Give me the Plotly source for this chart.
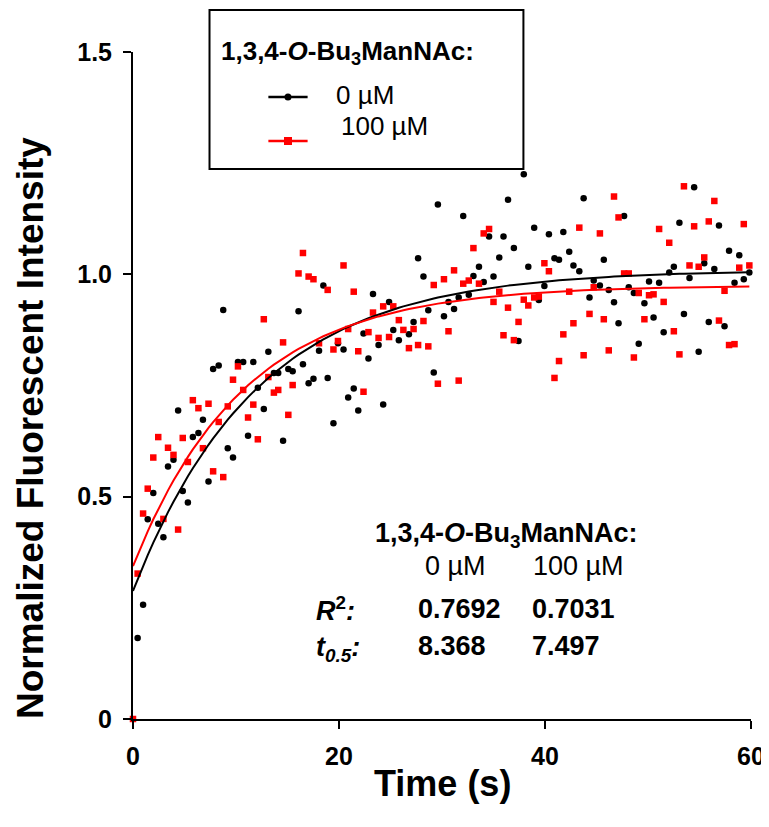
import plotly.graph_objects as go

# ---------------- data ----------------
time_s = [0.0, 0.45, 0.98, 1.43, 1.97, 2.45, 2.95, 3.4, 3.93, 4.38, 4.83, 5.33, 5.81, 6.35, 6.79,
          7.33, 7.78, 8.32, 8.76, 9.2, 9.71, 10.19, 10.7, 11.17, 11.68, 12.12, 12.7, 13.14, 13.68,
          14.1, 14.57, 15.08, 15.5, 16.07, 16.5, 17.05, 17.52, 18.06, 18.48, 18.9, 19.46, 19.9,
          20.44, 20.89, 21.43, 21.87, 22.38, 22.86, 23.3, 23.84, 24.29, 24.86, 25.27, 25.81, 26.25,
          26.79, 27.24, 27.68, 28.2, 28.67, 29.2, 29.6, 30.19, 30.63, 31.17, 31.62, 32.06, 32.6,
          33.05, 33.59, 34.05, 34.57, 35.0, 35.56, 35.97, 36.41, 36.98, 37.43, 37.94, 38.38, 38.95,
          39.4, 39.94, 40.38, 40.92, 41.36, 41.78, 42.35, 42.76, 43.33, 43.75, 44.32, 44.73, 45.33,
          45.71, 46.19, 46.7, 47.14, 47.68, 48.13, 48.63, 49.1, 49.65, 50.1, 50.54, 51.08, 51.52,
          52.06, 52.51, 53.05, 53.49, 54.03, 54.48, 54.92, 55.46, 55.9, 56.44, 56.89, 57.43, 57.87,
          58.4, 58.86, 59.3, 59.84]

intensity_0uM = [None, 0.182, 0.257, 0.449, 0.508, 0.439, 0.409, 0.568, 0.583, 0.694, 0.513, 0.487,
                 0.634, 0.643, 0.673, 0.534, 0.787, 0.795, 0.920, 0.609, 0.588, 0.803, 0.803, 0.637,
                 0.803, 0.745, 0.697, 0.826, 0.778, 0.778, 0.626, 0.787, 0.782, 0.917, 0.798, 0.755,
                 0.765, 0.828, 0.975, 0.767, 0.665, 0.845, 0.831, 0.723, 0.743, 0.694, 0.867, 0.811,
                 0.956, 0.841, 0.707, 0.938, 0.875, 0.852, None, 0.865, 0.893, 1.036, 0.995, 0.919,
                 0.779, 1.157, 0.906, 0.938, 0.922, 0.948, 1.131, 0.954, 0.996, 1.017, 0.983, 1.085,
                 0.995, 1.038, 1.085, 1.168, 1.059, 0.850, 1.225, 1.017, 1.105, 0.942, 0.974, 1.090,
                 1.036, 1.033, 1.095, 1.051, 1.020, 1.007, 1.171, 0.948, 0.986, 0.975, 1.033, 0.965,
                 0.937, 0.890, 1.131, 0.971, 0.958, 0.844, 0.935, 0.984, 0.903, 0.981, 0.870, 1.004,
                 1.017, 1.116, 0.911, 0.992, 1.196, 0.826, 1.025, 0.893, 1.012, 1.110, 0.883, 1.053,
                 0.981, 1.043, 0.989, 1.004]

intensity_100uM = [0.0, 0.327, 0.462, 0.518, 0.588, 0.634, 0.450, 0.610, 0.594, 0.426, 0.632, 0.578,
                   0.717, 0.699, 0.609, 0.709, 0.557, 0.668, 0.544, 0.703, 0.763, 0.793, 0.740, 0.678,
                   0.707, 0.629, 0.899, 0.769, 0.734, 0.740, 0.847, 0.684, 0.751, 1.002, 1.048, 0.995,
                   0.989, 0.845, None, 0.965, 0.831, 0.850, 1.020, 0.877, 0.961, 0.827, 0.736, 0.870,
                   0.914, 0.857, 0.928, 0.859, 0.928, 0.897, 0.875, 0.834, 0.877, 0.841, 0.895, 0.838,
                   0.976, 0.754, 0.989, 0.872, 1.009, 0.761, 0.979, 0.986, 1.059, 0.979, 1.092, 1.102,
                   0.938, 0.961, 0.863, 0.925, 0.852, 0.893, 0.943, 0.930, 0.948, 0.950, 1.025, 1.007,
                   0.767, 0.805, 0.865, 0.961, 0.890, 1.105, 0.818, 0.911, 0.971, 1.092, 0.899, 0.829,
                   1.175, 1.128, 1.002, 1.002, 0.813, 0.958, 0.899, 0.953, 0.955, 1.102, 0.938, 1.071,
                   0.872, 0.820, 1.198, 1.020, 1.108, 1.017, 1.038, 1.119, 1.165, 0.896, 0.963, 0.841,
                   0.843, 1.015, 1.113, 1.020]

# one-phase association fit parameters (t_half from the chart, y0/plateau)
fit_0uM = {"y0": 0.288, "plateau": 1.010, "t_half": 8.368}
fit_100uM = {"y0": 0.344, "plateau": 0.975, "t_half": 7.497}

x_ticks = [0, 20, 40, 60]
x_tick_text = ["0", "20", "40", "60"]
y_ticks = [0, 0.5, 1.0, 1.5]
y_tick_text = ["0", "0.5", "1.0", "1.5"]

FONT = "Liberation Sans, Arial, Helvetica, sans-serif"
RED = "#ff0000"

# ---------------- geometry helpers ----------------
W, H = 769, 827
L, R, T, B = 125, 14, 44, 116
PW, PH = W - L - R, H - T - B


def px(x):
    return (x - L) / PW


def py(y):
    return (H - B - y) / PH


def fit_curve(p, t):
    return [p["y0"] + (p["plateau"] - p["y0"]) * (1 - 2 ** (-ti / p["t_half"])) for ti in t]


fig = go.Figure()
fig.add_trace(go.Scatter(x=time_s, y=intensity_0uM, mode="markers", name="0 µM",
                         marker=dict(symbol="circle", size=6.5, color="black"), cliponaxis=False))
fig.add_trace(go.Scatter(x=time_s, y=intensity_100uM, mode="markers", name="100 µM",
                         marker=dict(symbol="square", size=6.5, color=RED), cliponaxis=False))
fig.add_trace(go.Scatter(x=time_s, y=fit_curve(fit_0uM, time_s), mode="lines",
                         line=dict(color="black", width=2), showlegend=False))
fig.add_trace(go.Scatter(x=time_s, y=fit_curve(fit_100uM, time_s), mode="lines",
                         line=dict(color=RED, width=2), showlegend=False))

shapes = []
# legend box
shapes.append(dict(type="rect", xref="paper", yref="paper", x0=px(203), x1=px(523),
                   y0=py(161), y1=py(2), line=dict(color="black", width=2)))
# legend samples
shapes.append(dict(type="line", xref="paper", yref="paper", x0=px(263), x1=px(303),
                   y0=py(89), y1=py(89), line=dict(color="black", width=2.5)))
shapes.append(dict(type="circle", xref="paper", yref="paper", xsizemode="pixel", ysizemode="pixel",
                   xanchor=px(283), yanchor=py(89), x0=-3.5, x1=3.5, y0=-3.5, y1=3.5,
                   fillcolor="black", line=dict(width=0)))
shapes.append(dict(type="line", xref="paper", yref="paper", x0=px(263), x1=px(303),
                   y0=py(133), y1=py(133), line=dict(color=RED, width=2.5)))
shapes.append(dict(type="rect", xref="paper", yref="paper", xsizemode="pixel", ysizemode="pixel",
                   xanchor=px(283), yanchor=py(133), x0=-4, x1=4, y0=-4, y1=4,
                   fillcolor=RED, line=dict(width=0)))

TITLE_TXT = "<b>1,3,4-<i>O</i>-Bu<sub>3</sub>ManNAc:</b>"


def ann(text, x, y, size=27, xanchor="left", angle=0):
    return dict(text=text, x=px(x), y=py(y), xref="paper", yref="paper", showarrow=False,
                xanchor=xanchor, yanchor="middle", textangle=angle,
                font=dict(family=FONT, size=size, color="black"))


annotations = [
    # legend texts
    ann(TITLE_TXT, 213, 44, size=26),
    ann("0 µM", 330, 87, size=26),
    ann("100 µM", 335, 118, size=26),
    # inset statistics
    ann(TITLE_TXT, 370, 527),
    ann("0 µM", 421, 558),
    ann("100 µM", 531, 558),
    ann("<b><i>R</i><sup>2</sup><i>:</i></b>", 310, 601),
    ann("<b>0.7692</b>", 413, 601),
    ann("<b>0.7031</b>", 530, 601),
    ann("<b><i>t</i><sub><i>0.5</i></sub><i>:</i></b>", 310, 641),
    ann("<b>8.368</b>", 413, 638),
    ann("<b>7.497</b>", 530, 638),
    # axis titles
    ann("<b>Normalized Fluorescent Intensity</b>", 20, 420, size=37, xanchor="center", angle=-90),
    ann("<b>Time (s)</b>", 440, 775, size=36, xanchor="center"),
]

axis_common = dict(showline=True, linecolor="black", linewidth=2, ticks="outside", ticklen=8,
                   tickwidth=2, tickcolor="black", showgrid=False, zeroline=False, mirror=False,
                   tickfont=dict(family=FONT, size=25, color="black"))

fig.update_layout(
    width=W, height=H, margin=dict(l=L, r=R, t=T, b=B),
    paper_bgcolor="white", plot_bgcolor="white", showlegend=False,
    font=dict(family=FONT, size=25, color="black"),
    shapes=shapes, annotations=annotations,
    xaxis=dict(range=[0, 60], tickvals=x_ticks, ticktext=["<b>%s</b>" % t for t in x_tick_text],
               ticklabelstandoff=6, **axis_common),
    yaxis=dict(range=[0, 1.5], tickvals=y_ticks, ticktext=["<b>%s</b>" % t for t in y_tick_text],
               ticklabelstandoff=6, **axis_common),
)

fig.write_html("out.html")
